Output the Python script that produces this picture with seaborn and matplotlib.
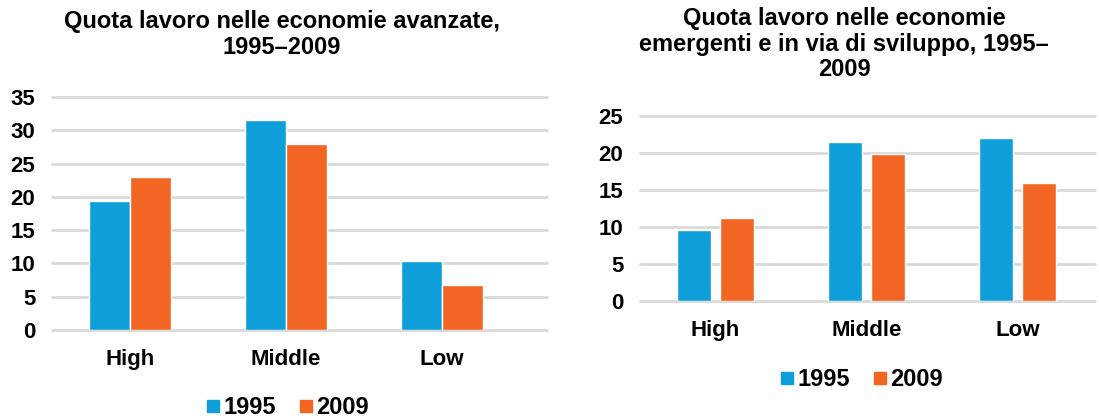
import pandas as pd
import seaborn as sns
import matplotlib.pyplot as plt
from matplotlib.lines import Line2D

# values
categories = ["High", "Middle", "Low"]
years = ["1995", "2009"]
adv_1995 = [19.4, 31.5, 10.4]
adv_2009 = [23.0, 28.0, 6.8]
emg_1995 = [9.6, 21.5, 22.0]
emg_2009 = [11.2, 19.9, 16.0]

title_adv = "Quota lavoro nelle economie avanzate,\n1995–2009"
title_emg = "Quota lavoro nelle economie\nemergenti e in via di sviluppo, 1995–\n2009"

colors = {"1995": "#0e9ed9", "2009": "#f26522"}

sns.set_style("white")
plt.rcParams['font.family'] = ['Liberation Sans', 'DejaVu Sans']
plt.rcParams['font.weight'] = 'bold'
plt.rcParams['text.color'] = 'black'
plt.rcParams['xtick.color'] = 'black'
plt.rcParams['ytick.color'] = 'black'


def make_df(v1, v2):
    df = pd.DataFrame({"Category": categories, "1995": v1, "2009": v2})
    return df.melt(id_vars="Category", var_name="Year", value_name="Value")


fig = plt.figure(figsize=(10.99, 4.18), dpi=100)
W, H = 1099, 418

# axes placed to match reference pixel layout
ax1 = fig.add_axes([52 / W, 1 - 330 / H, 495 / W, 233 / H])
ax2 = fig.add_axes([640 / W, 1 - 301 / H, 455 / W, 185 / H])


def draw(ax, df, ymax, step, width, gap, xmax, title, title_xy, leg_xy):
    sns.barplot(data=df, x="Category", y="Value", hue="Year", palette=colors,
                width=width, gap=gap, ax=ax, legend=False, saturation=1,
                edgecolor="white", linewidth=1, zorder=3)
    ax.set_xlim(-0.5, xmax)
    ax.set_ylim(0, ymax)
    ax.set_yticks(range(0, ymax + 1, step))
    ax.grid(axis="y", color="#d9d9d9", linewidth=2, zorder=0)
    for line in ax.get_ygridlines():
        line.set_clip_on(False)
    sns.despine(ax=ax, left=True, bottom=True)
    ax.tick_params(axis="both", length=0, labelsize=16)
    ax.tick_params(axis="y", pad=12)
    ax.tick_params(axis="x", pad=14)
    ax.set_xlabel("")
    ax.set_ylabel("")
    for lab in ax.get_xticklabels() + ax.get_yticklabels():
        lab.set_fontweight("bold")
    fig.text(title_xy[0] / W, 1 - title_xy[1] / H, title, ha="center", va="top",
             fontsize=17, fontweight="bold", linespacing=1.15)
    handles = [Line2D([], [], marker="s", linestyle="", markersize=9,
                      color=colors[y]) for y in years]
    fig.legend(handles, years, loc="center", ncol=2,
               bbox_to_anchor=(leg_xy[0] / W, 1 - leg_xy[1] / H),
               frameon=False, handletextpad=0.1, columnspacing=0.9,
               handlelength=0.7, prop={"size": 17, "weight": "bold"})


draw(ax1, make_df(adv_1995, adv_2009), 35, 5, 0.52, 0.0, 2.673,
     title_adv, (282, 10), (287, 408))
draw(ax2, make_df(emg_1995, emg_2009), 25, 5, 0.57, 0.23, 2.513,
     title_emg, (844, 7), (861, 380))

plt.savefig("out.png", dpi=100)
